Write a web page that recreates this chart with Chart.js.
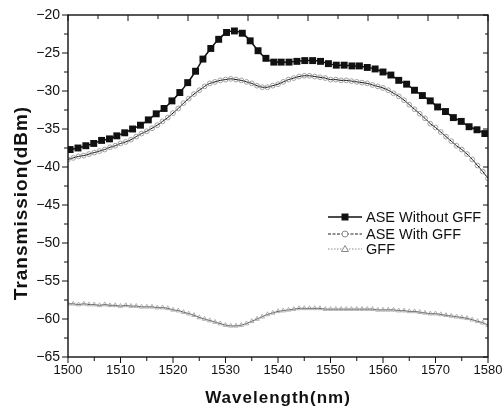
<!DOCTYPE html>
<html>
<head>
<meta charset="utf-8">
<title>Transmission vs Wavelength</title>
<script src="https://cdn.jsdelivr.net/npm/chart.js@4/dist/chart.umd.min.js"></script>
<style>
  html, body { margin: 0; padding: 0; background: #fff; }
  #wrap { width: 503px; height: 412px; }
</style>
</head>
<body>
<div id="wrap"><canvas id="chart" width="503" height="412"></canvas></div>
<script>
// Valeurs (dBm)
const squareWavelength = [
  1500.4, 1501.9, 1503.4, 1504.9, 1506.4, 1507.9, 1509.3, 1510.8, 1512.3, 1513.8,
  1515.3, 1516.8, 1518.3, 1519.8, 1521.3, 1522.8, 1524.3, 1525.7, 1527.2, 1528.7,
  1530.2, 1531.7, 1533.2, 1534.7, 1536.2, 1537.7, 1539.2, 1540.6, 1542.1, 1543.6,
  1545.1, 1546.6, 1548.1, 1549.6, 1551.1, 1552.6, 1554.1, 1555.5, 1557.0, 1558.5,
  1560.0, 1561.5, 1563.0, 1564.5, 1566.0, 1567.5, 1569.0, 1570.4, 1571.9, 1573.4,
  1574.9, 1576.4, 1577.9, 1579.4
];
const aseWithoutGff = [
  -37.7, -37.5, -37.2, -36.9, -36.5, -36.3, -35.9, -35.5, -35.0, -34.5,
  -33.8, -33.0, -32.3, -31.3, -30.2, -28.9, -27.4, -25.8, -24.4, -23.2,
  -22.3, -22.1, -22.4, -23.4, -24.7, -25.7, -26.2, -26.2, -26.2, -26.1,
  -26.0, -26.0, -26.1, -26.4, -26.6, -26.6, -26.7, -26.7, -26.9, -27.1,
  -27.5, -27.9, -28.6, -29.1, -29.9, -30.6, -31.3, -32.1, -32.7, -33.5,
  -34.0, -34.7, -35.1, -35.6
];

const wavelength = [
  1500, 1501, 1502, 1503, 1504, 1505, 1506, 1507, 1508, 1509,
  1510, 1511, 1512, 1513, 1514, 1515, 1516, 1517, 1518, 1519,
  1520, 1521, 1522, 1523, 1524, 1525, 1526, 1527, 1528, 1529,
  1530, 1531, 1532, 1533, 1534, 1535, 1536, 1537, 1538, 1539,
  1540, 1541, 1542, 1543, 1544, 1545, 1546, 1547, 1548, 1549,
  1550, 1551, 1552, 1553, 1554, 1555, 1556, 1557, 1558, 1559,
  1560, 1561, 1562, 1563, 1564, 1565, 1566, 1567, 1568, 1569,
  1570, 1571, 1572, 1573, 1574, 1575, 1576, 1577, 1578, 1579,
  1580
];
const aseWithGff = [
  -39.0, -38.8, -38.6, -38.5, -38.3, -38.1, -37.9, -37.7, -37.4, -37.2,
  -36.9, -36.7, -36.4, -36.0, -35.6, -35.3, -34.9, -34.5, -34.0, -33.5,
  -32.9, -32.3, -31.6, -31.0, -30.4, -29.9, -29.4, -29.0, -28.8, -28.6,
  -28.5, -28.4, -28.5, -28.6, -28.8, -29.0, -29.3, -29.5, -29.5, -29.3,
  -29.1, -28.8, -28.5, -28.3, -28.1, -28.0, -28.0, -28.1, -28.2, -28.3,
  -28.5, -28.5, -28.6, -28.6, -28.7, -28.8, -28.9, -29.0, -29.2, -29.4,
  -29.6, -29.9, -30.3, -30.7, -31.2, -31.8, -32.4, -33.0, -33.6, -34.3,
  -34.8, -35.4, -36.0, -36.6, -37.2, -37.7, -38.3, -39.0, -39.8, -40.6,
  -41.5
];
const gff = [
  -58.0, -58.0, -58.1, -58.0, -58.1, -58.1, -58.2, -58.1, -58.2, -58.2,
  -58.3, -58.2, -58.3, -58.3, -58.4, -58.4, -58.4, -58.5, -58.5, -58.6,
  -58.8, -58.9, -59.1, -59.3, -59.5, -59.8, -60.0, -60.2, -60.4, -60.6,
  -60.8, -60.9, -60.9, -60.8, -60.6, -60.3, -60.0, -59.7, -59.4, -59.2,
  -59.0, -58.9, -58.8, -58.7, -58.6, -58.6, -58.6, -58.6, -58.6, -58.7,
  -58.7, -58.7, -58.7, -58.7, -58.7, -58.7, -58.7, -58.7, -58.7, -58.8,
  -58.8, -58.8, -58.8, -58.9, -58.9, -59.0, -59.0, -59.1, -59.2, -59.3,
  -59.3, -59.4, -59.5, -59.6, -59.7, -59.8, -59.9, -60.1, -60.3, -60.5,
  -60.8
];

const xTickValues = [1500, 1510, 1520, 1530, 1540, 1550, 1560, 1570, 1580];
const yTickValues = [-65, -60, -55, -50, -45, -40, -35, -30, -25, -20];
const legendLabels = ['ASE Without GFF', 'ASE With GFF', 'GFF'];
const xTitle = 'Wavelength(nm)';
const yTitle = 'Transmission(dBm)';

const FONT = '"Liberation Sans", Arial, Helvetica, sans-serif';
Chart.defaults.font.family = FONT;
Chart.defaults.color = '#111';

function pairs(xs, ys) {
  return xs.map((x, i) => ({ x: x, y: ys[i] }));
}

// Cadre, graduations, titres et légende dessinés à la main
const framePlugin = {
  id: 'framePlugin',
  afterDatasetsDraw(chart) {
    const { ctx, chartArea: a, scales } = chart;
    const x = scales.x, y = scales.y, xTop = scales.xTop;
    ctx.save();
    ctx.strokeStyle = '#111';
    ctx.lineWidth = 1.4;
    ctx.strokeRect(a.left, a.top, a.right - a.left, a.bottom - a.top);

    ctx.lineWidth = 1;
    ctx.beginPath();
    // bas : vers l'extérieur, tous les 5 nm
    for (let v = x.min; v <= x.max; v += 5) {
      const px = x.getPixelForValue(v);
      const len = v % 10 === 0 ? 6 : 4;
      ctx.moveTo(px, a.bottom); ctx.lineTo(px, a.bottom + len);
    }
    // haut : vers l'intérieur
    for (let v = xTop.min; v <= xTop.max; v += 1) {
      const px = xTop.getPixelForValue(v);
      const len = v % 2 === 0 ? 6 : 4;
      ctx.moveTo(px, a.top); ctx.lineTo(px, a.top + len);
    }
    // gauche (extérieur) et droite (intérieur), tous les 2.5 dBm
    for (let v = y.min; v <= y.max; v += 2.5) {
      const py = y.getPixelForValue(v);
      const major = v % 5 === 0;
      ctx.moveTo(a.left, py); ctx.lineTo(a.left - (major ? 6 : 4), py);
      ctx.moveTo(a.right, py); ctx.lineTo(a.right - (major ? 5 : 3), py);
    }
    ctx.stroke();

    // titres des axes
    ctx.fillStyle = '#111';
    ctx.textAlign = 'center';
    ctx.textBaseline = 'alphabetic';
    ctx.letterSpacing = '1px';
    ctx.font = 'bold 17px ' + FONT;
    ctx.fillText(xTitle, (a.left + a.right) / 2, 403);
    ctx.save();
    ctx.translate(27, 203);
    ctx.rotate(-Math.PI / 2);
    ctx.font = 'bold 19px ' + FONT;
    ctx.fillText(yTitle, 0, 0);
    ctx.restore();
    ctx.letterSpacing = '0px';

    // légende
    const rows = [217, 234, 249];
    const x0 = 328, x1 = 362, xm = 345, xt = 366;
    ctx.font = '14.5px ' + FONT;
    ctx.textBaseline = 'middle';
    ctx.textAlign = 'left';
    rows.forEach((ry, i) => {
      ctx.beginPath();
      if (i === 0) { ctx.strokeStyle = '#111'; ctx.lineWidth = 1.5; ctx.setLineDash([]); }
      if (i === 1) { ctx.strokeStyle = '#222'; ctx.lineWidth = 1; ctx.setLineDash([3, 1.5]); }
      if (i === 2) { ctx.strokeStyle = '#888'; ctx.lineWidth = 1; ctx.setLineDash([1.5, 1.5]); }
      ctx.moveTo(x0, ry); ctx.lineTo(x1, ry);
      ctx.stroke();
      ctx.setLineDash([]);
      if (i === 0) {
        ctx.fillStyle = '#111';
        ctx.fillRect(xm - 3.5, ry - 3.5, 7, 7);
      } else if (i === 1) {
        ctx.beginPath();
        ctx.fillStyle = '#fff';
        ctx.strokeStyle = '#888';
        ctx.arc(xm, ry, 3, 0, Math.PI * 2);
        ctx.fill(); ctx.stroke();
      } else {
        ctx.beginPath();
        ctx.fillStyle = '#fff';
        ctx.strokeStyle = '#888';
        ctx.moveTo(xm, ry - 3.5); ctx.lineTo(xm + 3.5, ry + 2.5); ctx.lineTo(xm - 3.5, ry + 2.5);
        ctx.closePath();
        ctx.fill(); ctx.stroke();
      }
      ctx.fillStyle = '#111';
      ctx.fillText(legendLabels[i], xt, ry + 0.5);
    });
    ctx.restore();
  }
};

const ctx = document.getElementById('chart').getContext('2d');
new Chart(ctx, {
  type: 'line',
  data: {
    datasets: [
      {
        label: legendLabels[0],
        data: pairs(squareWavelength, aseWithoutGff),
        borderColor: '#111',
        borderWidth: 1.5,
        pointStyle: 'rect',
        pointRadius: 4.9,
        pointBackgroundColor: '#111',
        pointBorderColor: '#111',
        pointBorderWidth: 0,
        tension: 0.3
      },
      {
        label: legendLabels[1],
        data: pairs(wavelength, aseWithGff),
        borderColor: '#111',
        borderWidth: 1,
        pointStyle: 'circle',
        pointRadius: 2.4,
        pointBackgroundColor: 'rgba(0,0,0,0)',
        pointBorderColor: '#8c8c8c',
        pointBorderWidth: 0.8,
        tension: 0.4
      },
      {
        label: legendLabels[2],
        data: pairs(wavelength, gff),
        borderColor: '#555',
        borderWidth: 1,
        pointStyle: 'triangle',
        pointRadius: 2.6,
        pointBackgroundColor: 'rgba(0,0,0,0)',
        pointBorderColor: '#a0a0a0',
        pointBorderWidth: 0.8,
        tension: 0.4
      }
    ]
  },
  options: {
    responsive: false,
    animation: false,
    layout: { padding: { top: 15, right: 15, left: 0, bottom: 0 } },
    plugins: {
      legend: { display: false },
      tooltip: { enabled: false }
    },
    scales: {
      x: {
        type: 'linear',
        position: 'bottom',
        min: 1500,
        max: 1580,
        grid: { display: false, drawTicks: false },
        border: { display: false },
        afterBuildTicks: (scale) => { scale.ticks = xTickValues.map(v => ({ value: v })); },
        afterFit: (scale) => {
          scale.height = 55;
          scale.paddingLeft = 0;
          scale.paddingRight = 0;
        },
        ticks: {
          padding: 6,
          maxRotation: 0,
          font: { size: 13 },
          color: '#111',
          callback: (v) => String(v)
        }
      },
      xTop: {
        type: 'linear',
        position: 'top',
        display: false,
        min: 0,
        max: 14
      },
      y: {
        type: 'linear',
        min: -65,
        max: -20,
        grid: { display: false, drawTicks: false },
        border: { display: false },
        afterBuildTicks: (scale) => { scale.ticks = yTickValues.map(v => ({ value: v })); },
        afterFit: (scale) => {
          scale.width = 68;
          scale.paddingTop = 0;
          scale.paddingBottom = 0;
        },
        ticks: {
          padding: 8,
          font: { size: 14 },
          color: '#111',
          callback: (v) => '\u2212' + Math.abs(v)
        }
      }
    }
  },
  plugins: [framePlugin]
});
</script>
</body>
</html>
